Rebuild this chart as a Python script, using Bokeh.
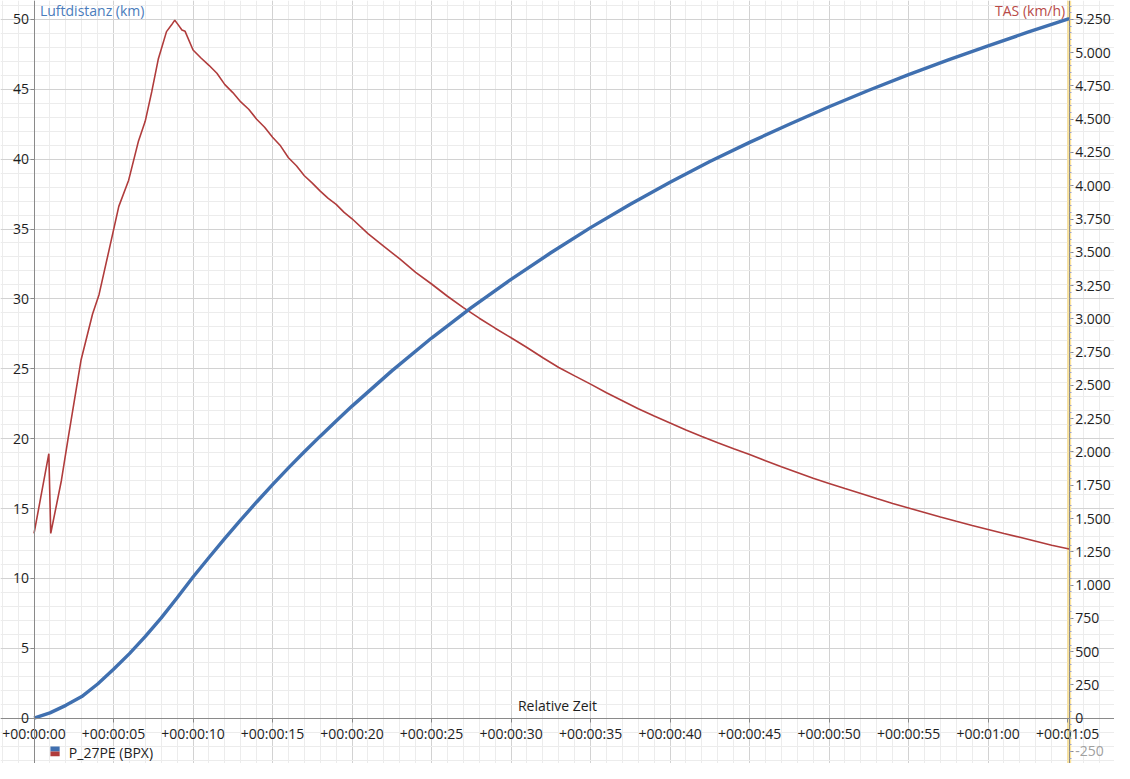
from bokeh.plotting import figure
from bokeh.models import (Range1d, LinearAxis, SingleIntervalTicker, Span, Label,
                          BoxAnnotation, Grid)
from bokeh.embed import file_html
from bokeh.resources import INLINE

# ---------------- data ----------------
# Luftdistanz (km) over relative time (s)
time_dist = [0, 1, 2, 3, 4, 5, 6, 7, 8, 9, 10, 11, 12, 13, 14, 15, 16, 17, 18, 19, 20,
             22.5, 25, 27.5, 30, 32.5, 35, 37.5, 40, 42.5, 45, 47.5, 50, 52.5, 55, 57.5,
             60, 62.5, 65.1]
dist_km = [0, 0.38, 0.92, 1.55, 2.45, 3.5, 4.62, 5.85, 7.18, 8.62, 10.1, 11.5, 12.87,
           14.19, 15.47, 16.71, 17.91, 19.06, 20.18, 21.27, 22.33,
           24.85, 27.2, 29.38, 31.4, 33.3, 35.1, 36.77, 38.35, 39.83, 41.2, 42.5, 43.75,
           44.93, 46.05, 47.1, 48.1, 49.08, 50.05]

# TAS (km/h) over relative time (s)
time_tas = [0, 0.93, 1.05, 1.72, 2.13, 2.96, 3.68, 4.09, 4.92, 5.33, 5.95, 6.57, 6.99,
            7.40, 7.81, 8.33, 8.64, 8.85, 9.0, 9.3, 9.5, 10.0, 10.5, 11.0, 11.5, 12.0,
            12.5, 13.0, 13.5, 14.0, 14.5, 15.0, 15.5, 16.0, 16.5, 17.0, 17.5, 18.0, 18.5,
            19.0, 19.5, 20, 21, 22, 23, 24, 25, 26, 27, 28, 29, 30, 31, 32, 33, 34, 35,
            36, 37, 38, 39, 40, 41, 42, 43, 44, 45, 46, 47, 48, 49, 50, 51, 52, 53, 54,
            55, 56, 57, 58, 59, 60, 61, 62, 63, 64, 65.1]
tas_kmh = [1388, 1987, 1388, 1786, 2093, 2693, 3037, 3184, 3625, 3845, 4042, 4337, 4484,
           4705, 4950, 5158, 5207, 5244, 5220, 5170, 5160, 5020, 4960, 4905, 4845, 4760,
           4700, 4630, 4575, 4500, 4440, 4365, 4300, 4210, 4150, 4075, 4020, 3960, 3905,
           3860, 3800, 3752, 3640, 3545, 3450, 3350, 3262, 3170, 3085, 3005, 2930, 2858,
           2785, 2708, 2635, 2572, 2510, 2445, 2385, 2325, 2270, 2218, 2165, 2117, 2070,
           2025, 1982, 1935, 1890, 1846, 1802, 1763, 1725, 1688, 1650, 1613, 1579, 1545,
           1511, 1479, 1448, 1418, 1388, 1359, 1330, 1300, 1271]

x_ticks = [0, 5, 10, 15, 20, 25, 30, 35, 40, 45, 50, 55, 60, 65]
x_tick_labels = ["+00:00:00", "+00:00:05", "+00:00:10", "+00:00:15", "+00:00:20",
                 "+00:00:25", "+00:00:30", "+00:00:35", "+00:00:40", "+00:00:45",
                 "+00:00:50", "+00:00:55", "+00:01:00", "+00:01:05"]
right_ticks = [-250, 0, 250, 500, 750, 1000, 1250, 1500, 1750, 2000, 2250, 2500, 2750,
               3000, 3250, 3500, 3750, 4000, 4250, 4500, 4750, 5000, 5250]
right_tick_labels = ["", "0", "250", "500", "750", "1.000", "1.250", "1.500", "1.750",
                     "2.000", "2.250", "2.500", "2.750", "3.000", "3.250", "3.500",
                     "3.750", "4.000", "4.250", "4.500", "4.750", "5.000", "5.250"]

left_title = "Luftdistanz (km)"
right_title = "TAS (km/h)"
x_title = "Relative Zeit"
series_name = "P_27PE (BPX)"

# ---------------- styles ----------------
BLUE = "#4070b0"
RED = "#b03c3c"
FONT = "Open Sans"
FS = "14px"
TXT = "#1e1e1e"
AXIS = "#8a8a8a"

X0, X1 = -2.11, 67.95
Y0, Y1 = -3.24, 51.35
K = 105.0  # km/h per km on the shared grid

p = figure(width=1114, height=763, output_backend="svg", toolbar_location=None,
           x_range=Range1d(X0, X1), y_range=Range1d(Y0, Y1),
           x_axis_type=None, y_axis_type=None, min_border=0,
           background_fill_color="white", border_fill_color="white")
p.outline_line_color = None
p.extra_y_ranges = {"tas": Range1d(Y0 * K, Y1 * K)}

xt = SingleIntervalTicker(interval=5, num_minor_ticks=5)
yt = SingleIntervalTicker(interval=5, num_minor_ticks=5)
rt = SingleIntervalTicker(interval=250, num_minor_ticks=5)

for dim, tk in ((0, xt), (1, yt)):
    g = Grid(dimension=dim, ticker=tk, grid_line_color="#d2d2d2", grid_line_width=1,
             minor_grid_line_color="#ececec", minor_grid_line_width=1)
    p.add_layout(g)

# yellow highlight of the right axis
p.add_layout(Span(location=time_tas[-1], dimension="height", line_color="#fbe39c",
                  line_width=4, level="underlay"))

# lines
p.line(time_tas, tas_kmh, y_range_name="tas", line_color=RED, line_width=1.6)
p.line(time_dist, dist_km, line_color=BLUE, line_width=3.4)

def style(ax):
    ax.axis_line_color = AXIS
    ax.major_tick_line_color = AXIS
    ax.minor_tick_line_color = AXIS
    ax.major_label_text_font = FONT
    ax.major_label_text_font_size = FS
    ax.major_label_text_color = TXT
    ax.major_tick_in = 0
    ax.major_tick_out = 4
    ax.minor_tick_in = 0

xaxis = LinearAxis(ticker=xt, fixed_location=0,
                   major_label_overrides=dict(zip(x_ticks, x_tick_labels)))
style(xaxis)
xaxis.minor_tick_out = 0
xaxis.major_label_standoff = 2
p.add_layout(xaxis, "below")

yaxis = LinearAxis(ticker=yt, fixed_location=0)
style(yaxis)
yaxis.minor_tick_out = 0
yaxis.major_label_standoff = 1
p.add_layout(yaxis, "left")

raxis = LinearAxis(ticker=rt, y_range_name="tas", fixed_location=time_tas[-1],
                   major_label_overrides=dict(zip(right_ticks, right_tick_labels)))
style(raxis)
raxis.minor_tick_out = 2
raxis.minor_tick_line_color = "#9aa0c8"
raxis.major_label_standoff = 2
p.add_layout(raxis, "right")

p.add_layout(Label(x=time_tas[-1], y=right_ticks[0], y_range_name="tas", text="-250",
                   x_offset=6, text_baseline="middle", text_font=FONT,
                   text_font_size=FS, text_color="#a0a0a0"))

# titles
p.add_layout(Label(x=0.37, y=Y1 - 0.05, text=left_title, text_baseline="top",
                   text_font=FONT, text_font_size=FS, text_color="#4a7cbc"))
p.add_layout(Label(x=64.85, y=Y1 - 0.05, text=right_title, text_baseline="top",
                   text_align="right", text_font=FONT, text_font_size=FS,
                   text_color="#b84a48"))
p.add_layout(Label(x=(X0 + X1) / 2, y=0.2, text=x_title, text_baseline="bottom",
                   text_align="center", text_font=FONT, text_font_size=FS,
                   text_color=TXT))

# legend
p.add_layout(BoxAnnotation(left=1.03, right=1.61, top=-2.03, bottom=-2.38,
                           fill_color=BLUE, fill_alpha=1, line_alpha=0))
p.add_layout(BoxAnnotation(left=1.03, right=1.61, top=-2.38, bottom=-2.73,
                           fill_color=RED, fill_alpha=1, line_alpha=0))
p.add_layout(Label(x=2.19, y=-2.43, text=series_name, text_baseline="middle",
                   text_font=FONT, text_font_size=FS, text_color=TXT))

open("out.html", "w").write(file_html(p, INLINE))
